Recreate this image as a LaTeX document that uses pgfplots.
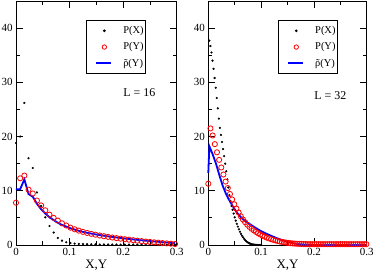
\documentclass[border=0pt]{standalone}
\usepackage{fontspec}
\setmainfont{Liberation Serif}
\usepackage{pgfplots}
\usepackage{pgfplotstable}
\pgfplotsset{compat=1.18}

\newcommand{\rhotilde}{\ooalign{\hfil ρ\hfil\cr\hfil ˜\hfil\cr}}

\pgfplotstableread{
x px py rho
0 18.8 7.8 10.3
0.0078 20.0 12.3 10.3
0.0156 26.2 12.8 12.1
0.0234 16.0 10.2 9.4
0.0313 14.2 9.5 8.9
0.0391 9.7 8.2 7.6
0.0469 7.2 7.3 6.6
0.0547 5.1 6.4 5.8
0.0625 3.5 5.6 5.1
0.0703 2.3 5.0 4.6
0.0781 1.3 4.5 4.1
0.0859 0.8 4.0 3.7
0.0938 0.5 3.6 3.4
0.1016 0.35 3.2 3.1
0.1094 0.25 2.9 2.85
0.1172 0.2 2.65 2.62
0.125 0.16 2.42 2.42
0.1328 0.14 2.22 2.25
0.1406 0.12 2.05 2.1
0.1484 0.11 1.9 1.96
0.1563 0.1 1.75 1.83
0.1641 0.1 1.62 1.71
0.1719 0.09 1.5 1.6
0.1797 0.09 1.38 1.49
0.1875 0.08 1.27 1.39
0.1953 0.08 1.17 1.29
0.2031 0.07 1.07 1.2
0.2109 0.07 0.98 1.11
0.2188 0.07 0.89 1.03
0.2266 0.06 0.8 0.95
0.2344 0.06 0.72 0.87
0.2422 0.06 0.64 0.8
0.25 0.05 0.57 0.73
0.2578 0.05 0.5 0.66
0.2656 0.05 0.43 0.59
0.2734 0.05 0.36 0.52
0.2813 0.04 0.3 0.46
0.2891 0.04 0.24 0.4
0.2969 0.04 0.18 0.34
}\Lsixteen

\pgfplotstableread{
x px
0.002 37.7
0.004 36.7
0.006 35.5
0.008 34.0
0.010 32.5
0.012 30.8
0.014 29.0
0.016 27.1
0.018 25.2
0.020 23.3
0.022 21.6
0.024 20.3
0.026 19.0
0.028 17.7
0.030 16.4
0.032 15.0
0.034 13.6
0.036 12.1
0.038 10.6
0.040 9.2
0.042 8.1
0.044 7.2
0.046 6.5
0.048 5.8
0.050 5.1
0.052 4.5
0.054 3.9
0.056 3.4
0.058 2.9
0.060 2.45
0.062 2.05
0.064 1.7
0.066 1.4
0.068 1.12
0.070 0.88
0.072 0.68
0.074 0.52
0.076 0.4
0.078 0.3
0.080 0.22
0.082 0.15
0.084 0.1
0.086 0.07
0.088 0.05
0.090 0.03
0.092 0.02
0.094 0.01
0.096 0.01
0.098 0.0
0.100 0.0
}\LtwoX

\pgfplotstableread{
x py
0 11.3
0.0041 21.5
0.0082 20.2
0.0123 18.6
0.0164 17.1
0.0205 15.7
0.0246 14.3
0.0287 13.0
0.0328 11.7
0.0369 10.5
0.041 9.4
0.0451 8.4
0.0492 7.5
0.0533 6.7
0.0574 6.0
0.0615 5.3
0.0656 4.7
0.0697 4.2
0.0738 3.75
0.0779 3.35
0.082 3.0
0.0861 2.7
0.0902 2.42
0.0943 2.17
0.0984 1.94
0.1025 1.73
0.1066 1.54
0.1107 1.37
0.1148 1.22
0.1189 1.08
0.123 0.95
0.1271 0.84
0.1312 0.74
0.1353 0.65
0.1394 0.57
0.1435 0.5
0.1476 0.44
0.1517 0.38
0.1558 0.33
0.1599 0.29
0.164 0.26
0.1681 0.23
0.1722 0.21
0.1763 0.19
0.1804 0.18
0.1845 0.17
0.1886 0.16
0.1927 0.15
0.1968 0.15
0.2009 0.15
0.205 0.15
0.2091 0.15
0.2132 0.15
0.2173 0.15
0.2214 0.15
0.2255 0.15
0.2296 0.15
0.2337 0.15
0.2378 0.15
0.2419 0.15
0.246 0.15
0.2501 0.15
0.2542 0.15
0.2583 0.15
0.2624 0.15
0.2665 0.15
0.2706 0.15
0.2747 0.15
0.2788 0.15
0.2829 0.15
0.287 0.15
0.2911 0.15
0.2952 0.15
0.2993 0.15
}\LtwoY

\pgfplotstableread{
x rho
0 13.3
0.002 18.2
0.008 16.8
0.0146 15.0
0.0209 12.9
0.027 11.0
0.0336 9.4
0.04 8.2
0.046 7.2
0.0526 6.2
0.059 5.4
0.0652 4.8
0.0715 4.3
0.081 3.7
0.0905 3.1
0.1 2.55
0.11 2.08
0.12 1.65
0.13 1.25
0.14 0.9
0.15 0.6
0.16 0.34
0.17 0.16
0.18 0.06
0.19 0.0
0.3 0.0
}\LtwoR

\pgfplotsset{
  myaxis/.style={
    scale only axis,
    anchor=south west,
    height=244bp,
    xmin=0, xmax=0.3, ymin=0, ymax=45,
    xtick={0,0.1,0.2,0.3},
    ytick={0,10,20,30,40},
    minor x tick num=1,
    minor y tick num=1,
    tick align=inside,
    major tick length=7bp,
    minor tick length=4bp,
    axis line style={line width=0.8bp},
    every tick/.style={line width=0.8bp, black},
    clip=false,
    /pgf/number format/assume math mode=true,
    tick label style={font=\fontsize{11}{12}\selectfont},
    xlabel={X,Y},
    xlabel style={font=\fontsize{13}{14}\selectfont, yshift=3bp},
    legend cell align=left,
    legend style={
      font=\fontsize{10.5}{12}\selectfont,
      draw=black, line width=0.8bp, fill=white,
      anchor=north west,
      inner xsep=0bp, inner ysep=4bp,
      row sep=3.5bp,
      nodes={inner xsep=2bp, inner ysep=2bp},
    },
  },
  dotstyle/.style={only marks, mark=*, mark size=0.9bp, black,
    legend image code/.code={\path (-9bp,0bp) (24bp,0bp);\draw[##1] plot coordinates {(8bp,0bp)};}},
  circstyle/.style={only marks, mark=o, mark size=2.6bp, red, mark options={line width=0.8bp},
    legend image code/.code={\path (-9bp,0bp) (24bp,0bp);\draw[##1,mark size=2.2bp] plot coordinates {(8bp,0bp)};}},
  linestyle/.style={no marks, blue, line width=1.8bp,
    legend image code/.code={\path (-9bp,0bp) (24bp,0bp);\draw[##1] (0bp,0bp) -- (15bp,0bp);}},
}

\begin{document}
\begin{tikzpicture}
\path[use as bounding box] (0,0) rectangle (374bp,273bp);
\begin{axis}[myaxis, at={(16bp,28bp)}, width=160.7bp,
  legend style={at={(0.436,0.922)}}]
  \addplot[dotstyle] table[x=x, y=px] {\Lsixteen};
  \addplot[circstyle] table[x=x, y=py] {\Lsixteen};
  \addplot[linestyle] table[x=x, y=rho] {\Lsixteen};
  \legend{P(X), P(Y), \rhotilde(Y)}
  \node[font=\fontsize{12}{13}\selectfont] at (rel axis cs:0.768,0.625) {L = 16};
\end{axis}
\begin{axis}[myaxis, at={(208.3bp,28bp)}, width=158.4bp,
  legend style={at={(0.44,0.922)}}]
  \addplot[dotstyle] table[x=x, y=px] {\LtwoX};
  \addplot[circstyle] table[x=x, y=py] {\LtwoY};
  \addplot[linestyle] table[x=x, y=rho] {\LtwoR};
  \legend{P(X), P(Y), \rhotilde(Y)}
  \node[font=\fontsize{12}{13}\selectfont] at (rel axis cs:0.771,0.612) {L = 32};
\end{axis}
\end{tikzpicture}
\end{document}
